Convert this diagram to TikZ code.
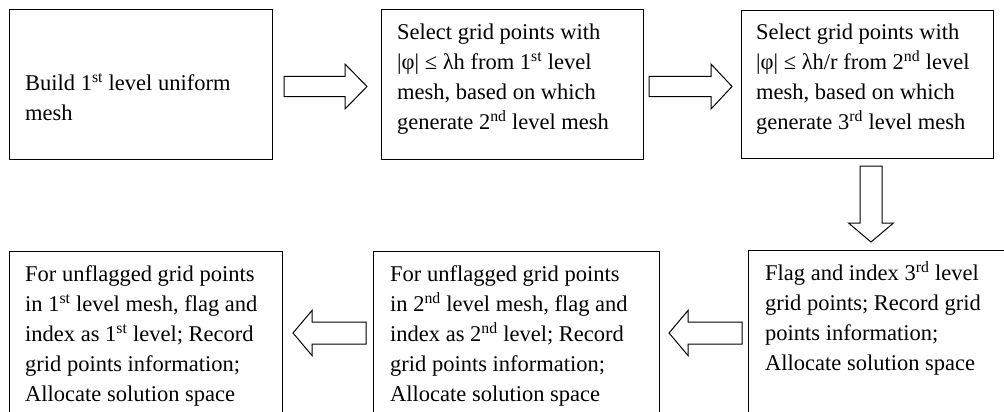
\documentclass[tikz,border=0pt]{standalone}
\usepackage{fontspec}
\setmainfont{Liberation Serif}
\tikzset{
  box/.style={draw, line width=1pt, anchor=north west, inner sep=0pt, outer sep=0pt},
  txt/.style={anchor=north west, inner sep=0pt, align=left, font=\fontsize{22.5}{30}\selectfont},
  barrow/.style={draw, line width=1pt, fill=white, line join=miter}
}
\begin{document}
\begin{tikzpicture}[x=1pt,y=-1pt]
\useasboundingbox (0,0) rectangle (1004,412);
\clip (0,0) rectangle (1004,412);
% boxes
\node[box, minimum width=263pt, minimum height=149pt] (b1) at (9,10) {};
\node[box, minimum width=262pt, minimum height=149pt] (b2) at (381,10) {};
\node[box, minimum width=252pt, minimum height=147pt] (b3) at (741,11) {};
\node[box, minimum width=300pt, minimum height=200pt] (b4) at (748,250) {};
\node[box, minimum width=286pt, minimum height=200pt] (b5) at (373,251) {};
\node[box, minimum width=273pt, minimum height=200pt] (b6) at (9,251) {};
% texts
\node[txt] (t1) at (25,69) {\strut Build 1\textsuperscript{st} level uniform\\mesh};
\node[txt] (t2) at (397,18.3) {\strut Select grid points with\\|φ| ≤ λh from 1\textsuperscript{st} level\\mesh, based on which\\generate 2\textsuperscript{nd} level mesh};
\node[txt] (t3) at (756,18.3) {\strut Select grid points with\\|φ| ≤ λh/r from 2\textsuperscript{nd} level\\mesh, based on which\\generate 3\textsuperscript{rd} level mesh};
\node[txt] (t4) at (765,259) {\strut Flag and index 3\textsuperscript{rd} level\\grid points; Record grid\\points information;\\Allocate solution space};
\node[txt] (t5) at (390,260) {\strut For unflagged grid points\\in 2\textsuperscript{nd} level mesh, flag and\\index as 2\textsuperscript{nd} level; Record\\grid points information;\\Allocate solution space};
\node[txt] (t6) at (25,260) {\strut For unflagged grid points\\in 1\textsuperscript{st} level mesh, flag and\\index as 1\textsuperscript{st} level; Record\\grid points information;\\Allocate solution space};
% block arrows
\draw[barrow] (284,76.5) -- (345,76.5) -- (345,64) -- (367,86.5) -- (345,109) -- (345,96.5) -- (284,96.5) -- cycle;
\draw[barrow] (649,76.5) -- (711,76.5) -- (711,64) -- (732,86.5) -- (711,109) -- (711,96.5) -- (649,96.5) -- cycle;
\draw[barrow] (860,166) -- (860,223) -- (848.5,223) -- (871,242) -- (893.5,223) -- (882,223) -- (882,166) -- cycle;
\draw[barrow] (742,322) -- (688,322) -- (688,310.5) -- (669,333) -- (688,355.5) -- (688,344) -- (742,344) -- cycle;
\draw[barrow] (366,322) -- (312,322) -- (312,310.5) -- (293,333) -- (312,355.5) -- (312,344) -- (366,344) -- cycle;
\end{tikzpicture}
\end{document}
